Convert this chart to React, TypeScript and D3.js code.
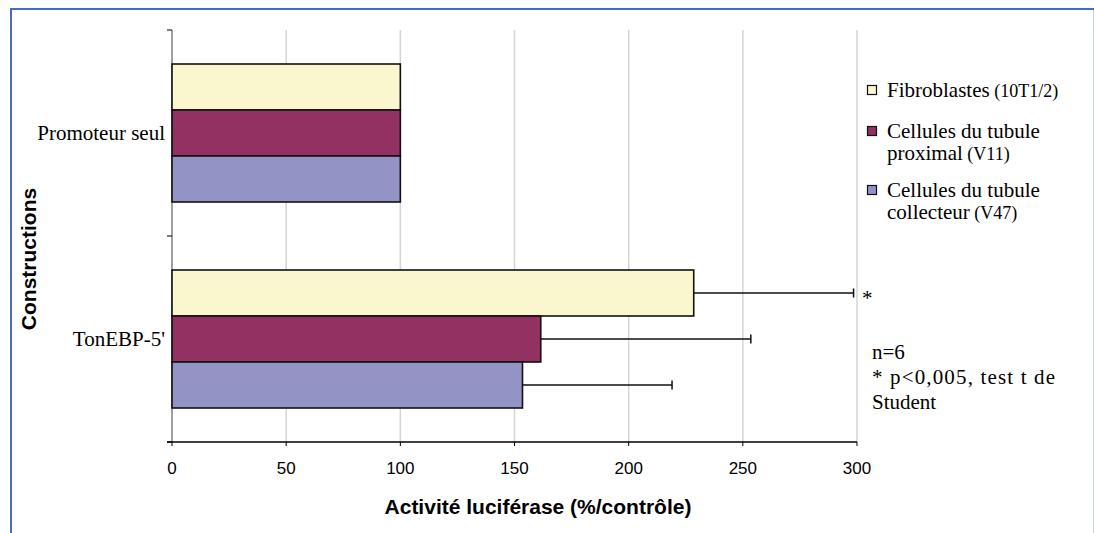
import React, { useEffect, useRef } from "react";
import * as d3 from "d3";

const categories = ["Promoteur seul", "TonEBP-5'"];
const seriesNames = ["Fibroblastes", "Cellules du tubule proximal", "Cellules du tubule collecteur"];
const seriesColors = ["#FAF7CE", "#933162", "#9393C6"];
const fibroblastes = [100, 228.5];
const proximal = [100, 161.5];
const collecteur = [100, 153.5];
const errFibro = [0, 70];
const errProx = [0, 92];
const errColl = [0, 65.5];
const xTicks = [0, 50, 100, 150, 200, 250, 300];

const W = 1094;
const H = 533;

export default function App() {
  const ref = useRef<SVGSVGElement | null>(null);

  useEffect(() => {
    const svg = d3.select(ref.current);
    svg.selectAll("*").remove();

    const x = d3.scaleLinear().domain([0, 300]).range([172, 857]);
    const y = d3.scaleBand().domain(categories).range([30, 442]).paddingInner(0).paddingOuter(0);
    const groupH = 138;
    const ySub = d3.scaleBand().domain(["0", "1", "2"]).range([0, groupH]);

    const values = [fibroblastes, proximal, collecteur];
    const errs = [errFibro, errProx, errColl];

    // frame
    svg.append("rect").attr("x", 0).attr("y", 0).attr("width", W).attr("height", H).attr("fill", "#fff");
    svg.append("line").attr("x1", 11).attr("x2", 11).attr("y1", 8).attr("y2", H).attr("stroke", "#4a68c8").attr("stroke-width", 2);
    svg.append("line").attr("x1", 10).attr("x2", W).attr("y1", 9).attr("y2", 9).attr("stroke", "#4a68c8").attr("stroke-width", 2);
    svg.append("line").attr("x1", 1093.5).attr("x2", 1093.5).attr("y1", 10).attr("y2", H).attr("stroke", "#c8cfdc").attr("stroke-width", 1);

    // gridlines
    svg.append("g").selectAll("line").data(xTicks.filter((d) => d > 0)).join("line")
      .attr("x1", (d) => x(d)).attr("x2", (d) => x(d))
      .attr("y1", 30).attr("y2", 442)
      .attr("stroke", "#d4d4d4").attr("stroke-width", 1.5);

    // left axis
    svg.append("line").attr("x1", 172).attr("x2", 172).attr("y1", 30).attr("y2", 442).attr("stroke", "#808080").attr("stroke-width", 1.5);
    const yEdges = [30, ...categories.map((c) => (y(c) as number) + y.bandwidth())];
    svg.append("g").selectAll("line").data(yEdges).join("line")
      .attr("x1", 167).attr("x2", 172).attr("y1", (d) => d).attr("y2", (d) => d)
      .attr("stroke", "#000").attr("stroke-width", 1);

    // bars
    categories.forEach((c, ci) => {
      const g0 = (y(c) as number) + (y.bandwidth() - groupH) / 2;
      values.forEach((vals, si) => {
        const top = g0 + (ySub(String(si)) as number);
        const bh = ySub.bandwidth();
        svg.append("rect")
          .attr("x", x(0)).attr("y", top)
          .attr("width", x(vals[ci]) - x(0)).attr("height", bh)
          .attr("fill", seriesColors[si]).attr("stroke", "#111").attr("stroke-width", 1.6);
        const e = errs[si][ci];
        if (e > 0) {
          const cy = top + bh / 2;
          svg.append("line").attr("x1", x(vals[ci])).attr("x2", x(vals[ci] + e)).attr("y1", cy).attr("y2", cy)
            .attr("stroke", "#111").attr("stroke-width", 1.5);
          svg.append("line").attr("x1", x(vals[ci] + e)).attr("x2", x(vals[ci] + e)).attr("y1", cy - 4.5).attr("y2", cy + 4.5)
            .attr("stroke", "#111").attr("stroke-width", 1.5);
        }
      });
    });

    // bottom axis
    svg.append("line").attr("x1", 167).attr("x2", 857).attr("y1", 442).attr("y2", 442).attr("stroke", "#000").attr("stroke-width", 1.5);
    svg.append("g").selectAll("line").data(xTicks).join("line")
      .attr("x1", (d) => x(d)).attr("x2", (d) => x(d)).attr("y1", 442).attr("y2", 446)
      .attr("stroke", "#000").attr("stroke-width", 1);
    svg.append("g").selectAll("text").data(xTicks).join("text")
      .attr("x", (d) => x(d)).attr("y", 474)
      .attr("text-anchor", "middle")
      .attr("font-family", "Liberation Sans, Arial, sans-serif").attr("font-size", 17)
      .attr("fill", "#000").text((d) => String(d));

    // axis titles
    svg.append("text").attr("x", 538).attr("y", 514).attr("text-anchor", "middle")
      .attr("font-family", "Liberation Sans, Arial, sans-serif").attr("font-size", 21).attr("font-weight", "bold")
      .text("Activité luciférase (%/contrôle)");
    svg.append("text").attr("transform", "translate(36,259) rotate(-90)").attr("text-anchor", "middle")
      .attr("font-family", "Liberation Sans, Arial, sans-serif").attr("font-size", 21).attr("font-weight", "bold")
      .text("Constructions");

    // category labels
    svg.append("g").selectAll("text").data(categories).join("text")
      .attr("x", 165).attr("y", (d) => (y(d) as number) + y.bandwidth() / 2 + 7)
      .attr("text-anchor", "end")
      .attr("font-family", "Liberation Serif, Times New Roman, serif").attr("font-size", 21)
      .text((d) => d);

    // asterisk
    svg.append("text").attr("x", 862).attr("y", 305)
      .attr("font-family", "Liberation Serif, Times New Roman, serif").attr("font-size", 21).text("*");

    // legend
    const serif = "Liberation Serif, Times New Roman, serif";
    const legend = [
      { lines: [["Fibroblastes", " (10T1/2)"]], cy: 90 },
      { lines: [["Cellules du tubule", ""], ["proximal", " (V11)"]], cy: 131 },
      { lines: [["Cellules du tubule", ""], ["collecteur", " (V47)"]], cy: 190 },
    ];
    legend.forEach((L, i) => {
      svg.append("rect").attr("x", 867.5).attr("y", L.cy - 4.5).attr("width", 9).attr("height", 9)
        .attr("fill", seriesColors[i]).attr("stroke", "#111").attr("stroke-width", 1.2);
      L.lines.forEach((ln, li) => {
        const t = svg.append("text").attr("x", 887).attr("y", L.cy + 7 + li * 22).attr("font-family", serif).attr("font-size", 21);
        t.append("tspan").text(ln[0]);
        if (ln[1]) t.append("tspan").attr("font-size", 18).text(ln[1]);
      });
    });

    // note
    svg.append("text").attr("x", 872).attr("y", 359).attr("font-family", serif).attr("font-size", 21).text("n=6");
    svg.append("text").attr("x", 872).attr("y", 384).attr("font-family", serif).attr("font-size", 21)
      .attr("textLength", 183).attr("lengthAdjust", "spacing").text("* p<0,005, test t de");
    svg.append("text").attr("x", 872).attr("y", 409).attr("font-family", serif).attr("font-size", 21).text("Student");
  }, []);

  return (
    <svg
      ref={ref}
      width={W}
      height={H}
      style={{ position: "absolute", left: 0, top: 0, display: "block" }}
    />
  );
}
